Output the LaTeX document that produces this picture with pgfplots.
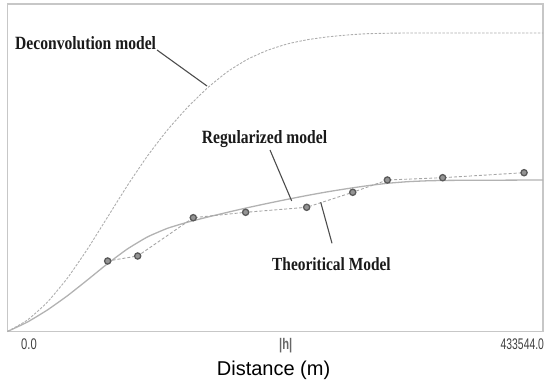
\documentclass[border=0pt]{standalone}
\usepackage{pgfplots}
\pgfplotsset{compat=1.18}
\usepackage{graphicx}
\usepackage{fontspec}
\setmainfont{Liberation Sans}
\newfontfamily\lblfont{Liberation Serif}
\begin{document}
\begin{tikzpicture}[x=1bp,y=1bp]
\useasboundingbox (0,0) rectangle (545,381);
\begin{axis}[
  at={(7.5bp,49.5bp)}, anchor=south west,
  scale only axis, width=535.5bp, height=327.5bp,
  xmin=0, xmax=433544, ymin=0, ymax=327.5,
  xtick=\empty, ytick=\empty,
  axis line style={draw=black!22, line width=1.6pt},
  clip=false,
]
% Deconvolution model
\addplot[black!32, line width=0.9pt, dash pattern=on 2.5pt off 1.5pt, smooth, tension=0.3] coordinates {
(0,0) (16192,11.5) (32384,29.5) (48576,53.5) (64768,82.5) (80960,114.3)
(97152,146.1) (113344,175.6) (129536,201.6) (145728,224.1) (161920,243.6)
(178112,259.8) (194304,272.2) (210496,281.2) (226688,287.6) (242880,291.8)
(259072,294.6) (275264,296.5) (291456,297.8) (323840,298.5) (433544,298.5)};
% Regularized model
\addplot[black!30, line width=1.3pt, smooth, tension=0.3] coordinates {
(0,0) (16192,9.5) (32384,21.6) (48576,35.8) (64768,51.6) (80960,67.8)
(97152,82.6) (113344,94.6) (129536,103.2) (145728,109.3) (161920,114.4)
(178112,119.2) (194304,123.8) (210496,128.1) (226688,132.2) (242880,136.1)
(259072,139.7) (275264,142.9) (291456,145.8) (307648,148.2) (323840,149.8)
(340032,150.7) (356224,151.1) (372416,151.2) (433544,151.5)};
% Theoretical model (points)
\addplot[black!35, line width=0.9pt, dash pattern=on 3pt off 2pt,
  mark=*, mark size=3.1bp, mark options={solid, draw=black!65, fill=black!42, line width=1.3pt}] coordinates {
(81100,70.5) (105400,75.5) (150400,113.8) (192800,119.2) (242200,124.2)
(279500,139.2) (307500,151.5) (352300,153.8) (418200,158.8)};
% pointer lines
\draw[black!70, line width=1.1pt] (axis cs:121035,281.5) -- (axis cs:161515,245.5);
\draw[black!70, line width=1.1pt] (axis cs:212520,181.5) -- (axis cs:230092,130.5);
\draw[black!70, line width=1.1pt] (axis cs:253572,129.2) -- (axis cs:262715,88.2);
\end{axis}
% annotation labels
\node[anchor=base west, inner sep=0pt, text=black!90] at (15,331.7) {\scalebox{1}[1.2]{\fontsize{15.6bp}{16bp}\lblfont\bfseries Deconvolution model}};
\node[anchor=base west, inner sep=0pt, text=black!90] at (201.7,237.7) {\scalebox{1}[1.2]{\fontsize{15.6bp}{16bp}\lblfont\bfseries Regularized model}};
\node[anchor=base west, inner sep=0pt, text=black!90] at (272,111) {\scalebox{1}[1.2]{\fontsize{15.4bp}{16bp}\lblfont\bfseries Theoritical Model}};
% axis tick labels
\node[anchor=base west, inner sep=0pt, text=black!75] at (21,31.5) {\scalebox{0.8}[1.1]{\fontsize{14bp}{14bp}\selectfont 0.0}};
\node[anchor=base west, inner sep=0pt, text=black!60] at (279,31.5) {\scalebox{0.8}[1.1]{\fontsize{14bp}{14bp}\selectfont\bfseries |h|}};
\node[anchor=base west, inner sep=0pt, text=black!75] at (500.5,31.5) {\scalebox{0.74}[1.1]{\fontsize{14bp}{14bp}\selectfont 433544.0}};
\node[anchor=base west, inner sep=0pt] at (216.7,6) {\fontsize{20bp}{20bp}\selectfont Distance (m)};
\end{tikzpicture}
\end{document}
